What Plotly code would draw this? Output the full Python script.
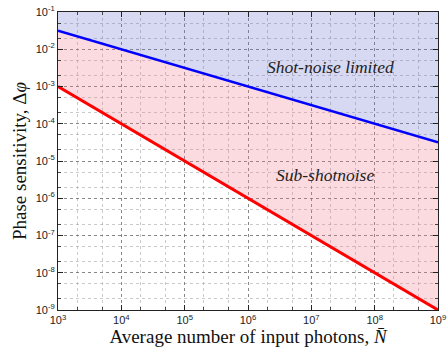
import plotly.graph_objects as go

# Data
photons = [1e3, 1e4, 1e5, 1e6, 1e7, 1e8, 1e9]
shot_noise = [3.16e-2, 1e-2, 3.16e-3, 1e-3, 3.16e-4, 1e-4, 3.16e-5]
heisenberg = [1e-3, 1e-4, 1e-5, 1e-6, 1e-7, 1e-8, 1e-9]
upper_bound = [1e-1, 1e-1, 1e-1, 1e-1, 1e-1, 1e-1, 1e-1]

x_ticks = [1e3, 1e4, 1e5, 1e6, 1e7, 1e8, 1e9]
x_tick_text = ["10<sup>%d</sup>" % e for e in range(3, 10)]
y_ticks = [10.0 ** e for e in range(-9, 0)]
y_tick_text = ["10<sup>%d</sup>" % e for e in range(-9, 0)]

fig = go.Figure()
# fills
fig.add_trace(go.Scatter(x=photons, y=heisenberg, mode="lines", line=dict(width=0),
                         hoverinfo="skip", showlegend=False))
fig.add_trace(go.Scatter(x=photons, y=shot_noise, mode="lines", line=dict(width=0),
                         fill="tonexty", fillcolor="rgba(240,120,140,0.27)",
                         hoverinfo="skip", showlegend=False))
fig.add_trace(go.Scatter(x=photons, y=upper_bound, mode="lines", line=dict(width=0),
                         fill="tonexty", fillcolor="rgba(100,105,205,0.26)",
                         hoverinfo="skip", showlegend=False))
# lines
fig.add_trace(go.Scatter(x=photons, y=shot_noise, mode="lines",
                         line=dict(color="#0000ff", width=2.5), showlegend=False))
fig.add_trace(go.Scatter(x=photons, y=heisenberg, mode="lines",
                         line=dict(color="#ff0000", width=3), showlegend=False))

fig.add_annotation(x=7.31, y=-2.48, xref="x", yref="y", text="<i>Shot-noise limited</i>",
                   showarrow=False, font=dict(family="Liberation Serif", size=17.5, color="#222"))
fig.add_annotation(x=7.22, y=-5.38, xref="x", yref="y", text="<i>Sub-shotnoise</i>",
                   showarrow=False, font=dict(family="Liberation Serif", size=17.5, color="#222"))

axis_common = dict(
    type="log", showline=True, linecolor="#222", linewidth=1, mirror="ticks",
    ticks="inside", ticklen=5, tickcolor="#222",
    showgrid=True, gridcolor="rgba(90,90,90,0.6)", griddash="dot", gridwidth=1,
    zeroline=False, automargin=False,
    tickfont=dict(family="Liberation Sans", size=11, color="#222"),
    minor=dict(ticks="inside", ticklen=3, tickcolor="#444", showgrid=True,
               gridcolor="rgba(150,150,150,0.5)", griddash="dot", gridwidth=1),
)

fig.update_xaxes(range=[3, 9], tickvals=x_ticks, ticktext=x_tick_text,
                 title=dict(text="Average number of input photons, <i>N\u0304</i>",
                            font=dict(family="Liberation Serif", size=19, color="#111"),
                            standoff=2),
                 **axis_common)
fig.update_yaxes(range=[-9, -1], tickvals=y_ticks, ticktext=y_tick_text,
                 title=dict(text="Phase sensitivity, \u0394<i>\u03c6</i>",
                            font=dict(family="Liberation Serif", size=19, color="#111"),
                            standoff=4),
                 **axis_common)

fig.update_layout(width=447, height=354, margin=dict(l=58, r=9, t=12, b=44),
                  plot_bgcolor="white", paper_bgcolor="white")

fig.write_html("out.html")
